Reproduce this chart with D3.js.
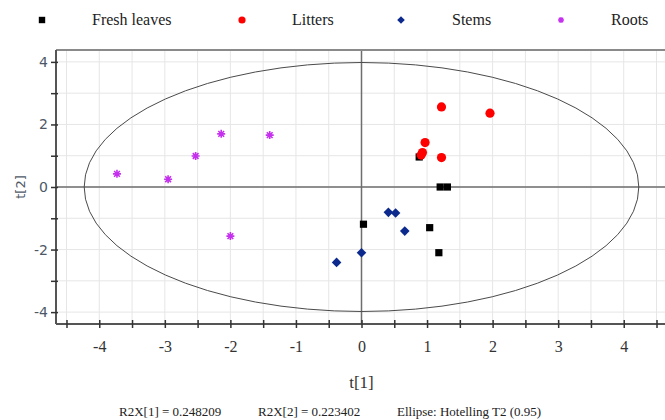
<!DOCTYPE html>
<html><head><meta charset="utf-8">
<script src="https://cdn.jsdelivr.net/npm/d3@7"></script>
<style>body{margin:0;background:#fff}svg{display:block}</style>
</head><body>
<svg id="c" width="665" height="420"></svg>
<script>
// ---- data ----
const seriesNames = ["Fresh leaves", "Litters", "Stems", "Roots"];
const freshLeavesT1 = [0.88, 1.20, 1.31, 0.03, 1.04, 1.18];
const freshLeavesT2 = [0.96, 0.00, 0.00, -1.19, -1.30, -2.10];
const littersT1 = [1.22, 1.96, 0.97, 0.93, 0.91, 1.22];
const littersT2 = [2.56, 2.36, 1.42, 1.10, 1.02, 0.94];
const stemsT1 = [0.41, 0.52, 0.66, 0.00, -0.38];
const stemsT2 = [-0.81, -0.83, -1.41, -2.10, -2.41];
const rootsT1 = [-3.73, -2.95, -2.53, -2.14, -1.40, -2.00];
const rootsT2 = [0.42, 0.25, 0.99, 1.70, 1.66, -1.57];
const xTicks = [-4.5,-4,-3.5,-3,-2.5,-2,-1.5,-1,-0.5,0,0.5,1,1.5,2,2.5,3,3.5,4,4.5];
const yTicks = [-4,-3,-2,-1,0,1,2,3,4];
const ellipseRadiusT1 = 4.23, ellipseRadiusT2 = 3.98;
const footerTexts = ["R2X[1] = 0.248209", "R2X[2] = 0.223402", "Ellipse: Hotelling T2 (0.95)"];

const svg = d3.select("#c");
const x = d3.scaleLinear().domain([-4.66, 4.66]).range([56, 667]);
const y = d3.scaleLinear().domain([-4.38, 4.38]).range([324, 50]);
const serif = "'Liberation Serif','Times New Roman',serif";

// grid
svg.append("g").selectAll("line").data(xTicks).join("line")
  .attr("x1", d => x(d)).attr("x2", d => x(d)).attr("y1", 50).attr("y2", 324)
  .attr("stroke", "#e6e6e6").attr("stroke-width", 1);
svg.append("g").selectAll("line").data(yTicks).join("line")
  .attr("x1", 56).attr("x2", 665).attr("y1", d => y(d)).attr("y2", d => y(d))
  .attr("stroke", "#e6e6e6").attr("stroke-width", 1);

// zero lines
svg.append("line").attr("x1", x(0)).attr("x2", x(0)).attr("y1", 50).attr("y2", 324)
  .attr("stroke", "#6e6e6e").attr("stroke-width", 1.5);
svg.append("line").attr("x1", 56).attr("x2", 665).attr("y1", y(0)).attr("y2", y(0))
  .attr("stroke", "#6e6e6e").attr("stroke-width", 1.5);

// top frame
svg.append("line").attr("x1", 56).attr("x2", 665).attr("y1", 50).attr("y2", 50)
  .attr("stroke", "#8a8a8a").attr("stroke-width", 2);

// ellipse
svg.append("ellipse").attr("cx", x(0)).attr("cy", y(0))
  .attr("rx", x(ellipseRadiusT1) - x(0)).attr("ry", y(0) - y(ellipseRadiusT2))
  .attr("fill", "none").attr("stroke", "#4a4a4a").attr("stroke-width", 1);

// x axis
const gx = svg.append("g").attr("transform", "translate(0,324)")
  .call(d3.axisBottom(x).tickValues(xTicks).tickSize(4).tickPadding(10)
    .tickFormat(d => Number.isInteger(d) ? d : ""));
gx.select(".domain").attr("stroke", "#555").attr("stroke-width", 2).attr("d", "M56,0H665");
gx.selectAll(".tick line").attr("y1", -4).attr("stroke", "#333").attr("stroke-width", 1.5);
gx.selectAll(".tick text").attr("font-family", serif).attr("font-size", 16).attr("fill", "#333").attr("dy", "0.9em");

// y axis
const gy = svg.append("g").attr("transform", "translate(56,0)")
  .call(d3.axisLeft(y).tickValues(yTicks).tickSize(5).tickPadding(3)
    .tickFormat(d => d % 2 === 0 ? d : ""));
gy.select(".domain").attr("stroke", "#555").attr("stroke-width", 2).attr("d", "M0,50V324");
gy.selectAll(".tick line").attr("x2", -5).attr("x1", 2).attr("stroke", "#333").attr("stroke-width", 1.5);
gy.selectAll(".tick text").attr("font-family", "'DejaVu Sans',sans-serif").attr("font-size", 14).attr("fill", "#4d5866");

// axis titles
svg.append("text").attr("x", x(0)).attr("y", 388).attr("text-anchor", "middle")
  .attr("font-family", serif).attr("font-size", 17).attr("fill", "#333").text("t[1]");
svg.append("text").attr("transform", "translate(25,187) rotate(-90)").attr("text-anchor", "middle")
  .attr("font-family", "'DejaVu Sans',sans-serif").attr("font-size", 13).attr("fill", "#4d5866").text("t[2]");

// markers
const sq = s => `M${-s},${-s}H${s}V${s}H${-s}Z`;
const dia = s => `M0,${-s}L${s},0L0,${s}L${-s},0Z`;
const ast = s => { const d = s * 0.72; return `M0,${-s}V${s}M${-s},0H${s}M${-d},${-d}L${d},${d}M${-d},${d}L${d},${-d}`; };

function plot(xs, ys, draw) {
  const pts = xs.map((v, i) => [v, ys[i]]);
  const g = svg.append("g");
  pts.forEach(p => draw(g.append("g").attr("transform", `translate(${x(p[0])},${y(p[1])})`)));
}
const styles = [
  g => g.append("path").attr("d", sq(3.6)).attr("fill", "#000"),
  g => g.append("circle").attr("r", 4.6).attr("fill", "#ff0000"),
  g => g.append("path").attr("d", dia(4.8)).attr("fill", "#0c2a8e"),
  g => g.append("path").attr("d", ast(4)).attr("stroke", "#c530ee").attr("stroke-width", 1.6).attr("fill", "none")
];
plot(freshLeavesT1, freshLeavesT2, styles[0]);
plot(littersT1, littersT2, styles[1]);
plot(stemsT1, stemsT2, styles[2]);
plot(rootsT1, rootsT2, styles[3]);

// legend
const legMarkX = [42, 242, 401, 561];
const legTextX = [92, 292, 452, 611];
const legStyles = [
  g => g.append("path").attr("d", sq(3.2)).attr("fill", "#000"),
  g => g.append("circle").attr("r", 3.6).attr("fill", "#ff0000"),
  g => g.append("path").attr("d", dia(3.8)).attr("fill", "#0c2a8e"),
  g => g.append("path").attr("d", ast(3)).attr("stroke", "#c530ee").attr("stroke-width", 1.4).attr("fill", "none")
];
seriesNames.forEach((n, i) => {
  legStyles[i](svg.append("g").attr("transform", `translate(${legMarkX[i]},20)`));
  svg.append("text").attr("x", legTextX[i]).attr("y", 25).attr("font-family", serif)
    .attr("font-size", 16).attr("fill", "#222").text(n);
});

// footer
const footX = [119, 258, 397];
footerTexts.forEach((t, i) => {
  svg.append("text").attr("x", footX[i]).attr("y", 416).attr("font-family", serif)
    .attr("font-size", 13).attr("fill", "#222").text(t);
});
</script>
</body></html>
